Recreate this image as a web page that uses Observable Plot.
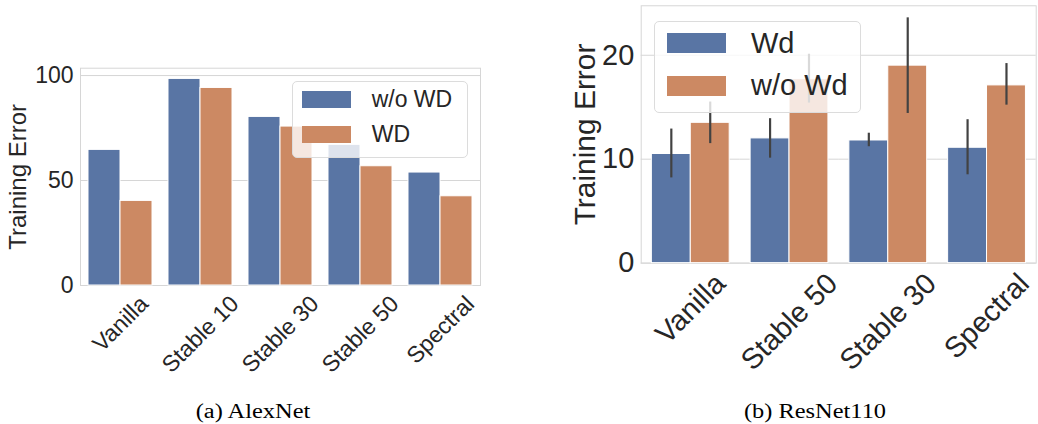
<!DOCTYPE html>
<html>
<head>
<meta charset="utf-8">
<script src="https://cdn.jsdelivr.net/npm/d3@7"></script>
<script src="https://cdn.jsdelivr.net/npm/@observablehq/plot@0.6"></script>
<style>
  body { margin: 0; background: #fff; }
  #root { position: relative; width: 1038px; height: 424px; overflow: hidden;
          font-family: "Liberation Sans", Arial, sans-serif; color: #262626; background: #fff; }
  .panel { position: absolute; top: 0; }
  .legend { position: absolute; background: rgba(255,255,255,0.8); border: 1px solid #dcdcdc;
            border-radius: 5px; box-sizing: border-box; }
  .sw { position: absolute; box-sizing: border-box; }
  .lt { position: absolute; white-space: nowrap; line-height: 1; color: #262626; }
  .cap { position: absolute; font-family: "Liberation Serif", "Times New Roman", serif; font-size: 20px;
         color: #000; white-space: nowrap; line-height: 1.1; transform: translateX(-50%) scaleX(1.22); }
</style>
</head>
<body>
<div id="root"></div>
<script>
// ---- data ----
const alexCategories = ["Vanilla", "Stable 10", "Stable 30", "Stable 50", "Spectral"];
const alexSeries = ["w/o WD", "WD"];
const alexWithoutWD = [64.6, 98.4, 80.3, 67.0, 53.8];
const alexWD = [40.3, 94.1, 75.7, 56.8, 42.5];
const alexTicks = [0, 50, 100];
const alexCaption = "(a) AlexNet";

const resCategories = ["Vanilla", "Stable 50", "Stable 30", "Spectral"];
const resSeries = ["Wd", "w/o Wd"];
const resWd = [10.5, 12.0, 11.8, 11.1];
const resWdLow = [8.2, 10.1, 11.2, 8.5];
const resWdHigh = [12.9, 13.9, 12.5, 13.8];
const resWithoutWd = [13.5, 17.7, 19.0, 17.1];
const resWithoutWdLow = [11.5, 15.4, 14.4, 15.2];
const resWithoutWdHigh = [15.5, 20.1, 23.6, 19.2];
const resTicks = [0, 10, 20];
const resCaption = "(b) ResNet110";

const yLabel = "Training Error";
const colors = ["#5975a4", "#cc8963"];
const FONT = '"Liberation Sans", Arial, sans-serif';

const root = document.getElementById("root");

function makePanel(cfg) {
  const rows = [];
  cfg.series.forEach((s, j) => cfg.categories.forEach((c, i) => rows.push({
    category: c, series: s, value: cfg.values[j][i],
    low: cfg.low ? cfg.low[j][i] : null, high: cfg.high ? cfg.high[j][i] : null
  })));

  // half of the gap between facet groups (outer padding 0.1 of a step)
  const plotW = cfg.width - cfg.mL - cfg.mR;
  const g = 0.1 * plotW / cfg.categories.length;

  const ctx = document.createElement("canvas").getContext("2d");
  ctx.font = `${cfg.fs}px ${FONT}`;
  const labelMarks = cfg.categories.map(c => {
    const w = ctx.measureText(c).width;
    const dy = cfg.pad + (w + 0.75 * cfg.fs) / Math.SQRT2 / 2;
    return Plot.text([c], {
      fx: d => d, text: d => d, frameAnchor: "bottom", rotate: -45, dy,
      fontSize: cfg.fs, fill: "#262626", textAnchor: "middle", lineAnchor: "middle"
    });
  });

  const marks = [
    Plot.ruleY(cfg.ticks, {y: d => d, insetLeft: -g, insetRight: -g, stroke: "#d6d6d6", strokeWidth: 1}),
    Plot.frame({facet: "super", insetLeft: -g, insetRight: -g, stroke: "#d6d6d6", strokeWidth: 1}),
    Plot.barY(rows, {fx: "category", x: "series", y: "value", fill: "series", stroke: "white", strokeWidth: 1})
  ];
  if (cfg.low) {
    marks.push(Plot.ruleX(rows, {fx: "category", x: "series", y1: "low", y2: "high", stroke: "#424242", strokeWidth: 2.2}));
  }
  marks.push(Plot.axisY({ticks: cfg.ticks, tickSize: 0, tickPadding: 7 + g, fontSize: cfg.fs, fill: "#262626", label: null}));
  marks.push(Plot.text([yLabel], {facet: "super", frameAnchor: "left", rotate: -90, dx: cfg.labelDx - g,
    text: d => d, textAnchor: "middle", lineAnchor: "middle", fontSize: cfg.labelFs, fill: "#262626"}));
  marks.push(...labelMarks);

  const svg = Plot.plot({
    width: cfg.width, height: cfg.height,
    marginLeft: cfg.mL, marginRight: cfg.mR, marginTop: cfg.mT, marginBottom: cfg.mB,
    fx: {domain: cfg.categories, paddingInner: 0.2, paddingOuter: 0.1, axis: null, label: null},
    x: {domain: cfg.series, padding: 0, axis: null},
    y: {domain: [0, cfg.yMax]},
    color: {domain: cfg.series, range: colors},
    style: {fontFamily: FONT, fontSize: cfg.fs + "px", color: "#262626", background: "transparent", overflow: "visible"},
    marks
  });
  const wrap = document.createElement("div");
  wrap.className = "panel";
  wrap.style.left = cfg.left + "px";
  wrap.appendChild(svg);
  root.appendChild(wrap);

  // legend
  const lg = document.createElement("div");
  lg.className = "legend";
  Object.assign(lg.style, {left: cfg.lg.x + "px", top: cfg.lg.y + "px", width: cfg.lg.w + "px", height: cfg.lg.h + "px"});
  root.appendChild(lg);
  cfg.series.forEach((s, j) => {
    const sw = document.createElement("div");
    sw.className = "sw";
    Object.assign(sw.style, {left: cfg.lg.swX + "px", top: cfg.lg.rows[j] + "px", width: cfg.lg.swW + "px",
      height: cfg.lg.swH + "px", background: colors[j]});
    root.appendChild(sw);
    const t = document.createElement("div");
    t.className = "lt";
    t.textContent = s;
    Object.assign(t.style, {left: cfg.lg.tX + "px", top: (cfg.lg.rows[j] + cfg.lg.swH / 2 - cfg.fs * 0.5) + "px",
      fontSize: cfg.fs + "px"});
    root.appendChild(t);
  });

  const cap = document.createElement("div");
  cap.className = "cap";
  cap.textContent = cfg.caption;
  Object.assign(cap.style, {left: cfg.capX + "px", top: "400px"});
  root.appendChild(cap);
}

makePanel({
  categories: alexCategories, series: alexSeries, values: [alexWithoutWD, alexWD],
  ticks: alexTicks, yMax: 103.5, fs: 23, labelFs: 24, pad: 8.5, labelDx: -62,
  left: 0, width: 500, height: 380, mL: 80, mR: 20, mT: 67.7, mB: 95,
  lg: {x: 292, y: 80.5, w: 176, h: 77, swX: 301.7, swW: 49.3, swH: 16.7, rows: [91, 126], tX: 371.7},
  caption: alexCaption, capX: 253
});

makePanel({
  categories: resCategories, series: resSeries, values: [resWd, resWithoutWd],
  low: [resWdLow, resWithoutWdLow], high: [resWdHigh, resWithoutWdHigh],
  ticks: resTicks, yMax: 24.76, fs: 29, labelFs: 30, pad: 8, labelDx: -56.3,
  left: 520, width: 519.3, height: 373, mL: 119.3, mR: 0, mT: 5.3, mB: 109.7,
  lg: {x: 654.3, y: 20.7, w: 206.7, h: 92.6, swX: 666.7, swW: 59, swH: 20, rows: [33.3, 75.7], tX: 751},
  caption: resCaption, capX: 815
});
</script>
</body>
</html>
